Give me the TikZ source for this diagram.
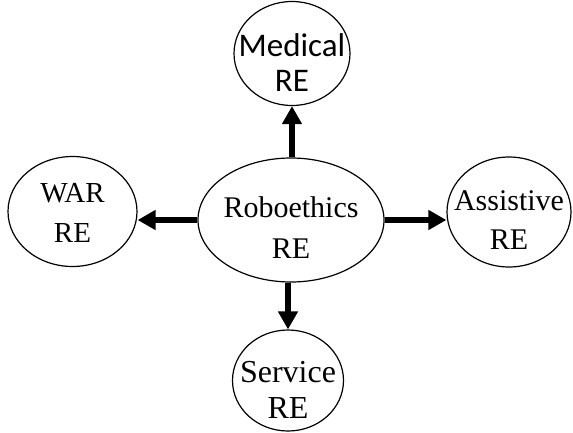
\documentclass[tikz,border=0pt]{standalone}
\usepackage{fontspec}
\setmainfont{Liberation Serif}
\newfontfamily\calib{Carlito}
\usetikzlibrary{arrows.meta,shapes.geometric}
\begin{document}
\begin{tikzpicture}[x=1pt,y=-1pt,
  bub/.style={draw,ellipse,line width=1.2pt,inner sep=0pt},
  lbl/.style={align=center,inner sep=0pt},
  conn/.style={line width=5.5pt,-{Triangle[length=18pt,width=19pt]}}]
\useasboundingbox (0,0) rectangle (573,432);
\node[bub,minimum width=116pt,minimum height=104pt,
  label={[lbl,font=\calib\fontsize{33}{35}\selectfont,yshift=-9pt]center:Medical\\RE}] (med) at (292,53.5) {};
\node[bub,minimum width=129pt,minimum height=110pt,
  label={[lbl,font=\fontsize{29}{40}\selectfont,yshift=-1pt]center:WAR\\RE}] (war) at (72.5,211.5) {};
\node[bub,minimum width=186pt,minimum height=124pt,
  label={[lbl,font=\fontsize{30}{41}\selectfont,yshift=-8pt]center:Roboethics\\RE}] (rob) at (291,220) {};
\node[bub,minimum width=124pt,minimum height=110pt,
  label={[lbl,font=\fontsize{30}{39}\selectfont,yshift=-8.5pt]center:Assistive\\RE}] (ass) at (509,212) {};
\node[bub,minimum width=111pt,minimum height=101pt,
  label={[lbl,font=\fontsize{32}{36}\selectfont,yshift=-9pt]center:Service\\RE}] (ser) at (288,380.5) {};
\draw[conn] (med.south |- rob.north) -- (med.south);
\draw[conn] (rob.west) -- (rob.west -| war.east);
\draw[conn] (rob.east) -- (rob.east -| ass.west);
\draw[conn] (ser.north |- rob.south) -- (ser.north);
\end{tikzpicture}
\end{document}
